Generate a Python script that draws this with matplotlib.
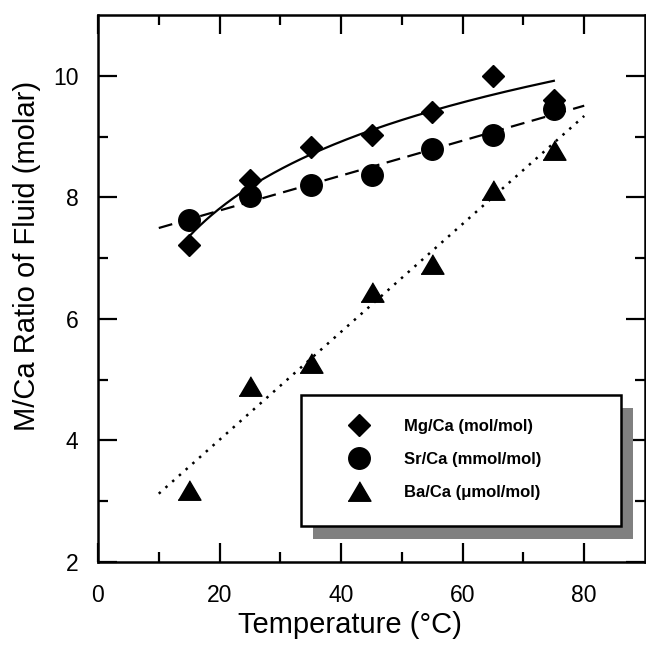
import numpy as np
import matplotlib.pyplot as plt
from matplotlib.patches import Rectangle

plt.rcParams['font.family'] = ['Liberation Sans', 'DejaVu Sans']

# fluid temperature (deg C) and M/Ca ratios of the fluid
temp_c = np.array([15, 25, 35, 45, 55, 65, 75])
mg_ca = np.array([7.22, 8.29, 8.83, 9.02, 9.41, 10.0, 9.60])
sr_ca = np.array([7.63, 8.03, 8.21, 8.36, 8.80, 9.03, 9.45])
ba_ca = np.array([3.19, 4.89, 5.28, 6.45, 6.91, 8.12, 8.78])

labels = ['Mg/Ca (mol/mol)', 'Sr/Ca (mmol/mol)', 'Ba/Ca (\u03bcmol/mol)']

# regression lines: log fit for Mg, linear for Sr and Ba
b_mg, a_mg = np.polyfit(np.log(temp_c), mg_ca, 1)
t_mg = np.linspace(15, 75, 200)
fit_mg = a_mg + b_mg * np.log(t_mg)

t_lin = np.array([10, 80])
fit_sr = np.polyval(np.polyfit(temp_c, sr_ca, 1), t_lin)
fit_ba = np.polyval(np.polyfit(temp_c, ba_ca, 1), t_lin)

fig = plt.figure(figsize=(6.46, 6.5), dpi=100)
ax = fig.add_axes([98 / 646, 1 - 562 / 650, 547 / 646, 547 / 650])

ax.plot(t_mg, fit_mg, color='black', lw=1.6)
ax.plot(t_lin, fit_sr, color='black', lw=1.6, linestyle=(0, (6.3, 3.4)))
ax.plot(t_lin, fit_ba, color='black', lw=1.8, linestyle=(0, (1, 2.6)))

tri = [(-1, -0.85), (1, -0.85), (0, 0.85)]
ax.plot(temp_c, mg_ca, 'D', color='black', ms=11, ls='none', label=labels[0])
ax.plot(temp_c, sr_ca, 'o', color='black', ms=15.5, ls='none', label=labels[1])
ax.plot(temp_c, ba_ca, marker=tri, color='black', ms=16.5, ls='none', label=labels[2])

ax.set_xlim(0, 90)
ax.set_ylim(2, 11)
ax.set_xticks([0, 20, 40, 60, 80])
ax.set_xticks([10, 30, 50, 70], minor=True)
ax.set_yticks([2, 4, 6, 8, 10])
ax.set_yticks([3, 5, 7, 9], minor=True)
ax.tick_params(which='both', direction='in', top=True, right=True, width=1.6,
               labelsize=16.5)
ax.tick_params(which='major', length=14)
ax.tick_params(which='minor', length=7)
ax.tick_params(axis='x', pad=16)
ax.tick_params(axis='y', pad=14)
for sp in ax.spines.values():
    sp.set_linewidth(1.8)

ax.set_xlabel('Temperature (\u00b0C)', fontsize=21)
ax.set_ylabel('M/Ca Ratio of Fluid (molar)', fontsize=21)
ax.xaxis.set_label_coords(0.46, -0.09)
ax.yaxis.set_label_coords(-0.105, 0.56)

# legend box with offset drop shadow
x0, y0, w, h = 0.371, 0.0658, 0.585, 0.239
off = 0.0229
ax.add_patch(Rectangle((x0 + off, y0 - off), w, h, transform=ax.transAxes,
                       facecolor='#808080', edgecolor='none', zorder=5))
ax.add_patch(Rectangle((x0, y0), w, h, transform=ax.transAxes,
                       facecolor='white', edgecolor='black', lw=1.8, zorder=6))
leg = ax.legend(loc='center', bbox_to_anchor=(0.636, 0.187), frameon=False,
                numpoints=1, handlelength=1.0, handletextpad=2.2,
                labelspacing=1.08, prop={'weight': 'bold', 'size': 12})
leg.set_zorder(7)

fig.savefig('out.png', dpi=100)
